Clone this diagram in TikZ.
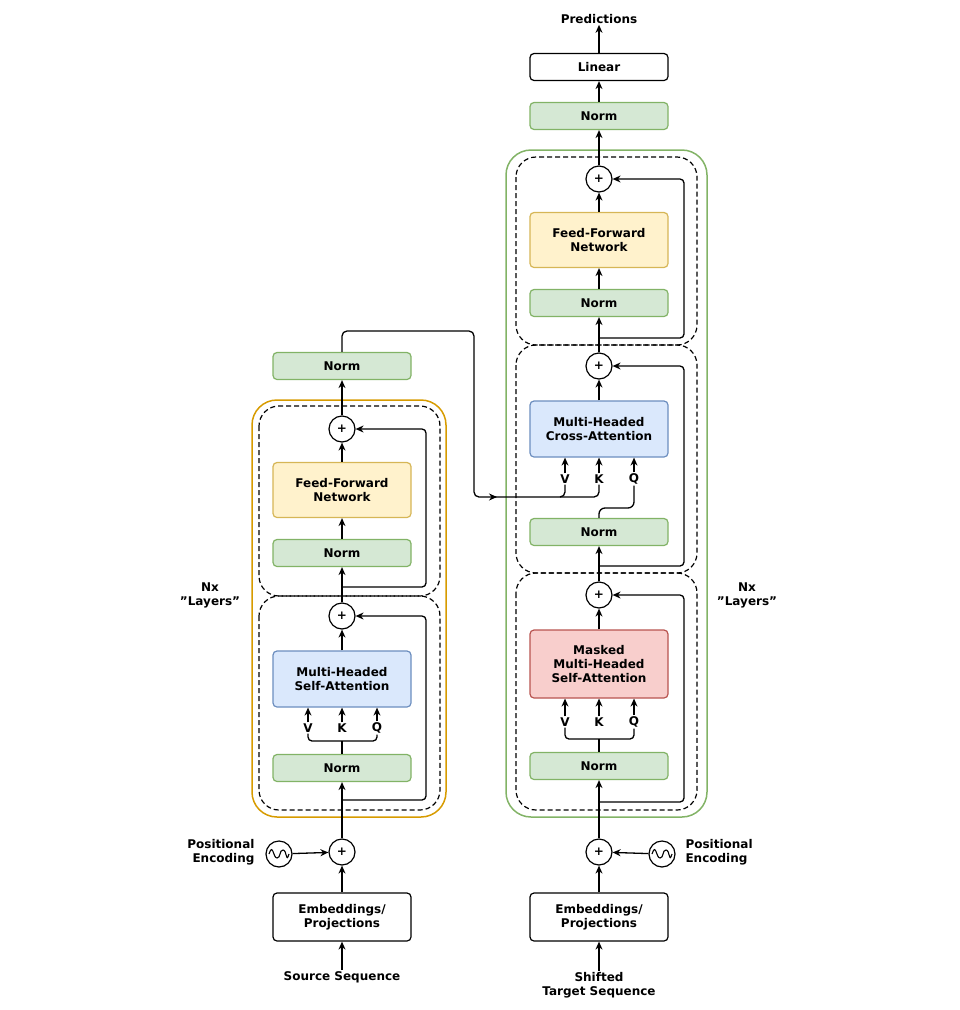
\documentclass[tikz,border=0pt]{standalone}
\usepackage{fontspec}
\setmainfont{DejaVu Sans}
\usetikzlibrary{arrows.meta}
\definecolor{gF}{HTML}{D5E8D4}\definecolor{gS}{HTML}{82B366}
\definecolor{bF}{HTML}{DAE8FC}\definecolor{bS}{HTML}{6C8EBF}
\definecolor{yF}{HTML}{FFF2CC}\definecolor{yS}{HTML}{D6B656}
\definecolor{rF}{HTML}{F8CECC}\definecolor{rS}{HTML}{B85450}
\definecolor{oS}{HTML}{D79B00}
\begin{document}
\begin{tikzpicture}[x=1pt,y=-1pt,
  font=\fontsize{12}{14}\selectfont\bfseries,
  box/.style={draw,rounded corners=4pt,line width=1.2pt,minimum width=138pt,align=center,inner sep=0pt},
  norm/.style={box,fill=gF,draw=gS,minimum height=27pt},
  attn/.style={box,fill=bF,draw=bS,minimum height=56pt},
  ffn/.style={box,fill=yF,draw=yS,minimum height=55pt},
  wbox/.style={box,fill=white,draw=black,minimum height=48pt},
  plus/.style={draw,circle,line width=1.2pt,minimum size=26pt,inner sep=0pt,fill=white},
  sine/.style={draw,circle,line width=1.2pt,minimum size=26pt,inner sep=0pt},
  lbl/.style={inner sep=1pt},
  arr/.style={line width=1.3pt,-{Stealth[length=8pt,width=7pt]}},
  ln/.style={line width=1.3pt},
  dbox/.style={draw,line width=1.2pt,rounded corners=20pt,dash pattern=on 5pt off 3pt},
]
\useasboundingbox (0,0) rectangle (960,1010);
% outer containers
\draw[oS,line width=1.5pt,rounded corners=25pt] (252,400) rectangle (446,817);
\draw[gS,line width=1.5pt,rounded corners=25pt] (506,150) rectangle (707,817);
\path[dbox] (259,406) rectangle (440,596);
\path[dbox] (259,596) rectangle (440,810);
\path[dbox] (516,157) rectangle (697,345);
\path[dbox] (516,345) rectangle (697,573);
\path[dbox] (516,573) rectangle (697,810);

% ===== Encoder =====
\node[lbl] (src) at (342,977) {Source Sequence};
\node[wbox] (eemb) at (342,917) {Embeddings/\\Projections};
\node[plus] (epe) at (342,852) {+};
\node[sine] (esin) at (279,854) {};
\node[align=right,anchor=east] (epetxt) at (258,852) {Positional\\Encoding};
\node[norm] (en1) at (342,768) {Norm};
\node[lbl] (eV) at (308,728) {V};
\node[lbl] (eK) at (342,728) {K};
\node[lbl] (eQ) at (377,728) {Q};
\node[attn] (esa) at (342,679) {Multi-Headed\\Self-Attention};
\node[plus] (ep1) at (342,616) {+};
\node[norm] (en2) at (342,553) {Norm};
\node[ffn] (effn) at (342,490) {Feed-Forward\\Network};
\node[plus] (ep2) at (342,429) {+};
\node[norm] (en3) at (342,366) {Norm};
\node[align=center] (enx) at (210,595) {Nx\\"Layers"};

\draw[arr] (src) -- (eemb);
\draw[arr] (eemb) -- (epe);
\draw[arr] (esin) -- (epe);
\draw[arr] (epe) -- (en1);
\coordinate (er1) at (342,800);
\draw[arr,rounded corners=4pt] (er1) -- (426,800) -- (426,616) -- (ep1.east);
\coordinate (eb) at (342,741);
\draw[ln] (en1.north) -- (eb);
\draw[ln,rounded corners=4pt] (eV.south) -- (308,741) -- (377,741) -- (eQ.south);
\draw[arr] (eV.north) -- (eV.north|-esa.south);
\draw[arr] (eK.north) -- (esa.south);
\draw[arr] (eQ.north) -- (eQ.north|-esa.south);
\draw[arr] (esa) -- (ep1);
\draw[arr] (ep1) -- (en2);
\draw[arr] (en2) -- (effn);
\draw[arr] (effn) -- (ep2);
\coordinate (er2) at (342,587);
\draw[arr,rounded corners=4pt] (er2) -- (426,587) -- (426,429) -- (ep2.east);
\draw[arr] (ep2) -- (en3);

% ===== Decoder =====
\node[lbl,align=center] (tgt) at (599,985) {Shifted\\Target Sequence};
\node[wbox] (demb) at (599,917) {Embeddings/\\Projections};
\node[plus] (dpe) at (599,852) {+};
\node[sine] (dsin) at (662,854) {};
\node[align=left,anchor=west] (dpetxt) at (682,852) {Positional\\Encoding};
\node[norm] (dn1) at (599,766) {Norm};
\node[lbl] (dV) at (565,722) {V};
\node[lbl] (dK) at (599,722) {K};
\node[lbl] (dQ) at (634,722) {Q};
\node[box,fill=rF,draw=rS,minimum height=68pt] (dmsa) at (599,664) {Masked\\Multi-Headed\\Self-Attention};
\node[plus] (dp1) at (599,595) {+};
\node[norm] (dn2) at (599,532) {Norm};
\node[lbl] (cV) at (565,479) {V};
\node[lbl] (cK) at (599,479) {K};
\node[lbl] (cQ) at (634,479) {Q};
\node[attn] (dca) at (599,429) {Multi-Headed\\Cross-Attention};
\node[plus] (dp2) at (599,366) {+};
\node[norm] (dn3) at (599,303) {Norm};
\node[ffn] (dffn) at (599,240) {Feed-Forward\\Network};
\node[plus] (dp3) at (599,179) {+};
\node[norm] (dn4) at (599,116) {Norm};
\node[box,fill=white,draw=black,minimum height=27pt] (lin) at (599,67) {Linear};
\node[lbl] (pred) at (599,19) {Predictions};
\node[align=center] (dnx) at (747,595) {Nx\\"Layers"};

\draw[arr] (tgt) -- (demb);
\draw[arr] (demb) -- (dpe);
\draw[arr] (dsin) -- (dpe);
\draw[arr] (dpe) -- (dn1);
\coordinate (dr1) at (599,802);
\draw[arr,rounded corners=4pt] (dr1) -- (684,802) -- (684,595) -- (dp1.east);
\coordinate (db) at (599,739);
\draw[ln] (dn1.north) -- (db);
\draw[ln,rounded corners=4pt] (dV.south) -- (565,739) -- (634,739) -- (dQ.south);
\draw[arr] (dV.north) -- (dV.north|-dmsa.south);
\draw[arr] (dK.north) -- (dmsa.south);
\draw[arr] (dQ.north) -- (dQ.north|-dmsa.south);
\draw[arr] (dmsa) -- (dp1);
\draw[arr] (dp1) -- (dn2);
\coordinate (dr2) at (599,566);
\draw[arr,rounded corners=4pt] (dr2) -- (684,566) -- (684,366) -- (dp2.east);
\draw[ln,rounded corners=6pt] (dn2.north) -- (599,508) -- (634,508) -- (cQ.south);
\draw[arr] (cV.north) -- (cV.north|-dca.south);
\draw[arr] (cK.north) -- (dca.south);
\draw[arr] (cQ.north) -- (cQ.north|-dca.south);
\draw[arr] (dca) -- (dp2);
\draw[arr] (dp2) -- (dn3);
\draw[arr] (dn3) -- (dffn);
\draw[arr] (dffn) -- (dp3);
\coordinate (dr3) at (599,338);
\draw[arr,rounded corners=4pt] (dr3) -- (684,338) -- (684,179) -- (dp3.east);
\draw[arr] (dp3) -- (dn4);
\draw[arr] (dn4) -- (lin);
\draw[arr] (lin) -- (pred);

% encoder -> cross attention
\coordinate (xa) at (497,497);
\draw[arr,rounded corners=5pt] (en3.north) -- (342,331) -- (474,331) -- (474,497) -- (xa);
\draw[ln,rounded corners=5pt] (495,497) -- (599,497) -- (cK.south);
\draw[ln,rounded corners=5pt] (560,497) -- (565,497) -- (cV.south);

% sine waves
\foreach \c in {esin,dsin}{
  \draw[line width=1.1pt] ([xshift=-10pt]\c.center) .. controls +(4,-12) and +(-4,0) .. ([xshift=-2pt,yshift=-4pt]\c.center)
    .. controls +(4,0) and +(-4,0) .. ([xshift=4pt,yshift=4pt]\c.center)
    .. controls +(4,0) and +(-3,10) .. ([xshift=10pt]\c.center);
}
\end{tikzpicture}
\end{document}
